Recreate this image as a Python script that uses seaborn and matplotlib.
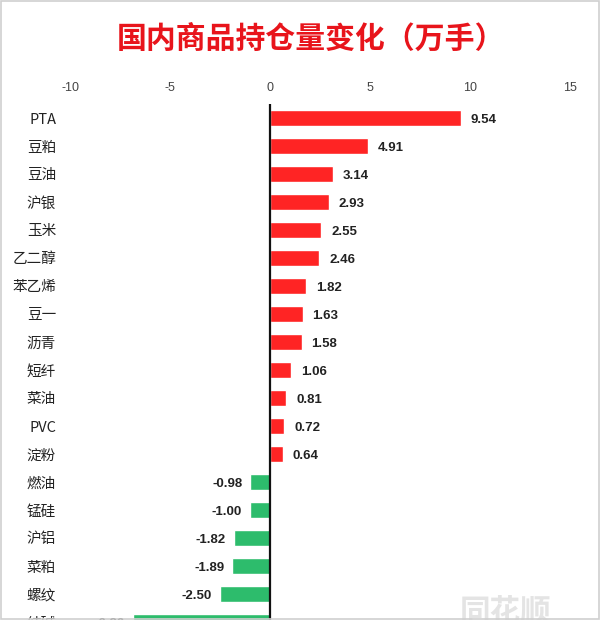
import matplotlib
matplotlib.use("Agg")
import matplotlib.pyplot as plt
import seaborn as sns
import pandas as pd
from matplotlib.patches import Rectangle

categories = ["PTA", "豆粕", "豆油", "沪银", "玉米", "乙二醇", "苯乙烯", "豆一", "沥青", "短纤",
              "菜油", "PVC", "淀粉", "燃油", "锰硅", "沪铝", "菜粕", "螺纹", "纯碱"]
values = [9.54, 4.91, 3.14, 2.93, 2.55, 2.46, 1.82, 1.63, 1.58, 1.06,
          0.81, 0.72, 0.64, -0.98, -1.00, -1.82, -1.89, -2.50, -6.86]
x_ticks = [-10, -5, 0, 5, 10, 15]
title = "国内商品持仓量变化（万手）"

sns.set_theme(style="white")
plt.rcParams['font.family'] = ['Noto Sans CJK SC', 'DejaVu Sans']

df = pd.DataFrame({"cat": categories, "val": values})
df["sign"] = ["pos" if v >= 0 else "neg" for v in values]

fig = plt.figure(figsize=(6.0, 6.2), dpi=100)
ax = fig.add_axes([70/600, (620-636)/620, 500/600, (636-104)/620])

sns.barplot(data=df, x="val", y="cat", hue="sign", orient="h",
            palette={"pos": "#FF2424", "neg": "#2DBC6C"}, dodge=False,
            width=0.6, legend=False, ax=ax, saturation=1)

ax.set_xlim(-10, 15)
ax.set_ylim(len(categories) - 0.5, -0.5)
ax.set_xticks(x_ticks)
ax.set_xticklabels([str(t) for t in x_ticks], fontsize=9, color="#444444",
                   family=['Liberation Sans', 'DejaVu Sans'])
ax.xaxis.tick_top()
ax.tick_params(axis="x", length=0, pad=7)
ax.tick_params(axis="y", length=0, pad=10, labelsize=10.5, labelcolor="#222222")
ax.set_xlabel("")
ax.set_ylabel("")
for s in ax.spines.values():
    s.set_visible(False)
ax.axvline(0, color="#111111", lw=1.6, zorder=5)

for i, v in enumerate(values):
    if v >= 0:
        ax.text(v + 0.5, i + 0.06, f"{v:.2f}", va="center", ha="left", fontsize=9.5,
                fontweight="bold", color="#222222", family=['Liberation Sans', 'DejaVu Sans'])
    else:
        ax.text(v - 0.4, i + 0.06, f"{v:.2f}", va="center", ha="right", fontsize=9.5,
                fontweight="bold", color="#222222", family=['Liberation Sans', 'DejaVu Sans'])

fig.text(311/600, 1 - 39/620, title, ha="center", va="center", fontsize=21.5,
         fontweight="bold", color="#E8141B")

# watermark
fig.text(505/600, 1 - 612/620, "同花顺", ha="center", va="center", fontsize=22,
         fontweight="bold", style="italic", color="#E4E4E4", zorder=0)

fig.patches.append(Rectangle((0.002, 0.002), 0.996, 0.996, transform=fig.transFigure,
                             fill=False, edgecolor="#CFCFCF", lw=1.2))

fig.savefig("out.png", dpi=100)
